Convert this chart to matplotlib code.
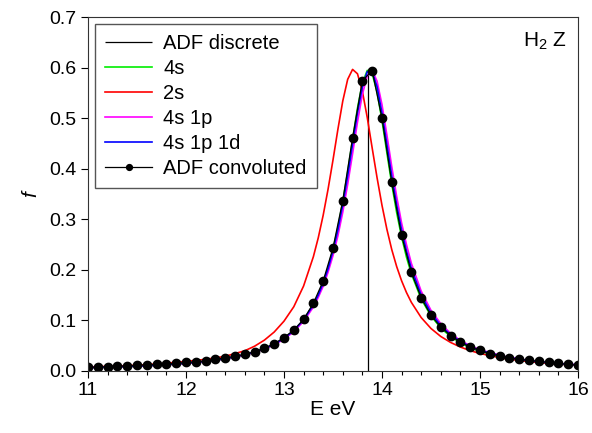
import matplotlib
matplotlib.use('Agg')
import matplotlib.pyplot as plt
from matplotlib.ticker import MultipleLocator

plt.rcParams['font.family'] = ['Liberation Sans', 'DejaVu Sans']

# --- data ---
E_DISCRETE = [13.86]
F_DISCRETE = [0.595]

E_GRID = [11.0, 11.25, 11.5, 11.75, 12.0, 12.2, 12.4, 12.6, 12.7, 12.8, 12.9, 13.0,
          13.1, 13.2, 13.3, 13.35, 13.4, 13.45, 13.5, 13.55, 13.6, 13.65, 13.7, 13.75,
          13.8, 13.85, 13.9, 13.95, 14.0, 14.05, 14.1, 14.15, 14.2, 14.25, 14.3, 14.4,
          14.5, 14.6, 14.7, 14.8, 14.9, 15.0, 15.25, 15.5, 15.75, 16.0]

F_4S = [0.0065, 0.0077, 0.0094, 0.0118, 0.0150, 0.0187, 0.0240, 0.0317, 0.0371, 0.0438,
        0.0525, 0.0640, 0.0794, 0.1008, 0.1311, 0.1510, 0.1752, 0.2045, 0.2403, 0.2835,
        0.3348, 0.3937, 0.4576, 0.5197, 0.5693, 0.5945, 0.5880, 0.5517, 0.4956, 0.4318,
        0.3694, 0.3133, 0.2653, 0.2252, 0.1921, 0.1426, 0.1088, 0.0851, 0.0681, 0.0556,
        0.0462, 0.0389, 0.0267, 0.0194, 0.0147, 0.0115]

F_2S = [0.0080, 0.0095, 0.0115, 0.0145, 0.0190, 0.0230, 0.0290, 0.0400, 0.0490, 0.0610,
        0.0770, 0.0985, 0.1270, 0.1680, 0.2260, 0.2635, 0.3080, 0.3596, 0.4170, 0.4776,
        0.5339, 0.5767, 0.5964, 0.5878, 0.5532, 0.5011, 0.4410, 0.3821, 0.3278, 0.2804,
        0.2400, 0.2065, 0.1785, 0.1552, 0.1357, 0.1057, 0.0841, 0.0683, 0.0565, 0.0474,
        0.0403, 0.0346, 0.0247, 0.0185, 0.0143, 0.0114]

F_4S1P = [0.0065, 0.0078, 0.0095, 0.0118, 0.0150, 0.0187, 0.0239, 0.0315, 0.0367, 0.0433,
          0.0517, 0.0628, 0.0776, 0.0981, 0.1265, 0.1455, 0.1675, 0.1955, 0.2280, 0.2670,
          0.3140, 0.3690, 0.4295, 0.4920, 0.5470, 0.5840, 0.5950, 0.5730, 0.5270, 0.4670,
          0.4040, 0.3450, 0.2930, 0.2500, 0.2130, 0.1580, 0.1200, 0.0935, 0.0745, 0.0605,
          0.0500, 0.0420, 0.0287, 0.0208, 0.0157, 0.0123]

F_4S1P1D = [0.0066, 0.0079, 0.0097, 0.0120, 0.0154, 0.0191, 0.0244, 0.0323, 0.0376, 0.0444,
            0.0531, 0.0646, 0.0799, 0.1011, 0.1309, 0.1504, 0.1740, 0.2026, 0.2373, 0.2792,
            0.3287, 0.3860, 0.4485, 0.5103, 0.5620, 0.5920, 0.5920, 0.5620, 0.5103, 0.4485,
            0.3860, 0.3287, 0.2792, 0.2373, 0.2026, 0.1504, 0.1146, 0.0896, 0.0717, 0.0584,
            0.0485, 0.0408, 0.0280, 0.0203, 0.0154, 0.0120]

E_CONV = [11.0, 11.1, 11.2, 11.3, 11.4, 11.5, 11.6, 11.7, 11.8, 11.9,
          12.0, 12.1, 12.2, 12.3, 12.4, 12.5, 12.6, 12.7, 12.8, 12.9,
          13.0, 13.1, 13.2, 13.3, 13.4, 13.5, 13.6, 13.7, 13.8, 13.9,
          14.0, 14.1, 14.2, 14.3, 14.4, 14.5, 14.6, 14.7, 14.8, 14.9,
          15.0, 15.1, 15.2, 15.3, 15.4, 15.5, 15.6, 15.7, 15.8, 15.9, 16.0]
F_CONV = [0.007, 0.0075, 0.0085, 0.009, 0.010, 0.011, 0.012, 0.013, 0.014, 0.015,
          0.017, 0.018, 0.020, 0.023, 0.026, 0.029, 0.033, 0.038, 0.045, 0.054,
          0.066, 0.081, 0.102, 0.134, 0.178, 0.243, 0.337, 0.461, 0.574, 0.594,
          0.500, 0.373, 0.268, 0.195, 0.145, 0.110, 0.087, 0.070, 0.057, 0.047,
          0.041, 0.034, 0.030, 0.026, 0.023, 0.021, 0.019, 0.017, 0.015, 0.013, 0.012]

fig = plt.figure(figsize=(5.92, 4.33), dpi=100)
ax = fig.add_axes([0.1486, 0.1432, 0.8277, 0.8175])

ax.vlines(E_DISCRETE, 0, F_DISCRETE, color='black', linewidth=0.9, label='ADF discrete')
ax.plot(E_GRID, F_4S, color='#00ee00', linewidth=1.2, label='4s')
ax.plot(E_GRID, F_2S, color='#ff0000', linewidth=1.2, label='2s')
ax.plot(E_GRID, F_4S1P, color='#ff00ff', linewidth=1.2, label='4s 1p')
ax.plot(E_GRID, F_4S1P1D, color='#0000ff', linewidth=1.2, label='4s 1p 1d')
ax.plot(E_CONV, F_CONV, color='black', linewidth=0.9, marker='o', markersize=6,
        label='ADF convoluted')

ax.set_xlim(11, 16)
ax.set_ylim(0, 0.7)
ax.xaxis.set_major_locator(MultipleLocator(1))
ax.xaxis.set_minor_locator(MultipleLocator(0.2))
ax.yaxis.set_major_locator(MultipleLocator(0.1))
ax.yaxis.set_major_formatter(plt.FormatStrFormatter('%.1f'))
ax.tick_params(which='major', direction='out', length=5, width=0.8, labelsize=14,
               pad=3, top=False, right=False)
ax.tick_params(which='minor', direction='out', length=3, width=0.8, top=False, right=False)
for s in ax.spines.values():
    s.set_linewidth(0.8)
    s.set_edgecolor('#333333')

ax.set_xlabel('E eV', fontsize=15, labelpad=1)
ax.set_ylabel('f', fontsize=15, style='italic', labelpad=7)

ax.text(0.978, 0.932, r'H$_\mathregular{2}$ Z', transform=ax.transAxes,
        ha='right', va='center', fontsize=15)

leg = ax.legend(loc='upper left', fontsize=14.5, handlelength=2.35, handletextpad=0.55,
                labelspacing=0.3, borderpad=0.5, borderaxespad=0.35, numpoints=1,
                markerscale=0.7, fancybox=False, framealpha=1)
leg.get_frame().set_edgecolor('#555555')
leg.get_frame().set_linewidth(1.0)

fig.savefig('out.png', dpi=100)
